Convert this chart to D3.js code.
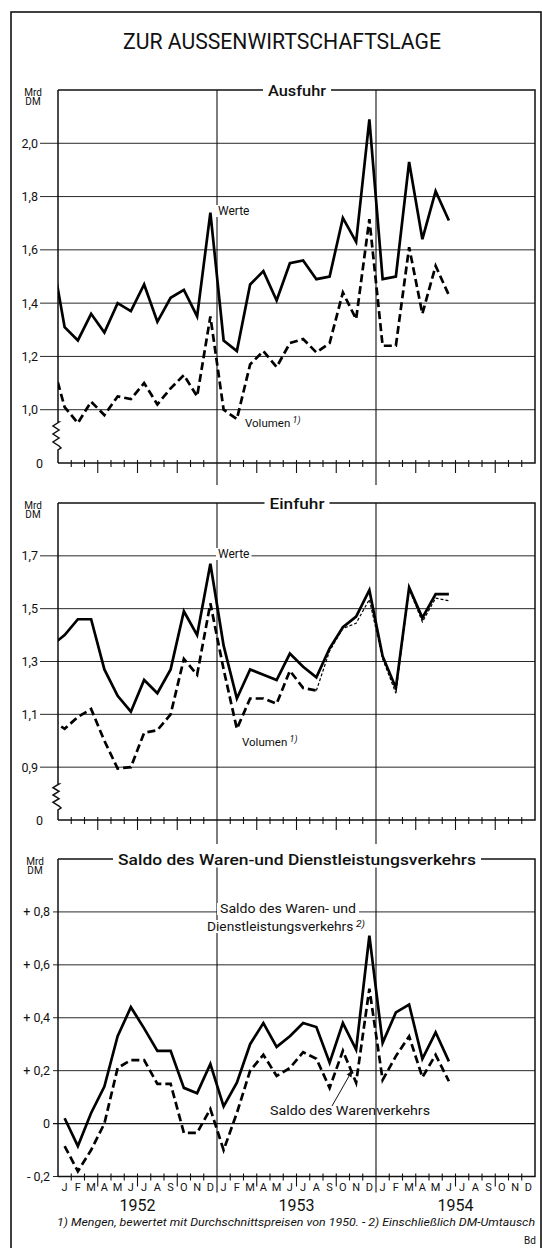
<!DOCTYPE html>
<html>
<head>
<meta charset="utf-8">
<script src="https://cdn.jsdelivr.net/npm/d3@7"></script>
<style>
  body { margin: 0; background: #fff; }
  text { font-family: Roboto, "Noto Sans", sans-serif; fill: #111; }
</style>
</head>
<body>
<div id="chart"></div>
<script>
// months J..D for 1952-1954, series from Dec 1951 (index -1) or Jan 1952
const months = ["J", "F", "M", "A", "M", "J", "J", "A", "S", "O", "N", "D"];
const years = ["1952", "1953", "1954"];

// Ausfuhr, Mrd DM, Dez 1951 .. Jun 1954
const ausfuhrWerte = [1.59,
    1.31, 1.26, 1.36, 1.29, 1.40, 1.37, 1.47, 1.33, 1.42, 1.45, 1.35, 1.74,
    1.26, 1.22, 1.47, 1.52, 1.41, 1.55, 1.56, 1.49, 1.50, 1.72, 1.63, 2.09,
    1.49, 1.50, 1.93, 1.64, 1.82, 1.71];
const ausfuhrVolumen = [1.19,
    1.01, 0.95, 1.03, 0.98, 1.05, 1.04, 1.10, 1.02, 1.08, 1.13, 1.05, 1.35,
    1.00, 0.965, 1.17, 1.22, 1.16, 1.25, 1.265, 1.215, 1.25, 1.44, 1.34, 1.715,
    1.24, 1.24, 1.61, 1.36, 1.54, 1.43];

// Einfuhr, Mrd DM, Dez 1951 .. Jun 1954
const einfuhrWerte = [1.36,
    1.40, 1.46, 1.46, 1.27, 1.17, 1.11, 1.23, 1.18, 1.27, 1.49, 1.40, 1.67,
    1.36, 1.16, 1.27, 1.25, 1.23, 1.33, 1.28, 1.24, 1.35, 1.43, 1.47, 1.57,
    1.32, 1.20, 1.58, 1.465, 1.555, 1.555];
const einfuhrVolumen = [1.08,
    1.045, 1.09, 1.12, 1.00, 0.895, 0.90, 1.03, 1.04, 1.10, 1.31, 1.25, 1.52,
    1.27, 1.045, 1.16, 1.16, 1.14, 1.265, 1.20, 1.19, 1.34, 1.425, 1.445, 1.535,
    1.31, 1.18, 1.575, 1.45, 1.54, 1.53];

// Saldo, Mrd DM, Jan 1952 .. Jun 1954
const saldoGesamt = [
    0.02, -0.085, 0.04, 0.14, 0.33, 0.44, 0.36, 0.275, 0.275, 0.135, 0.115, 0.225,
    0.065, 0.155, 0.30, 0.38, 0.29, 0.33, 0.38, 0.365, 0.23, 0.38, 0.28, 0.71,
    0.305, 0.42, 0.45, 0.245, 0.345, 0.235];
const saldoWaren = [
    -0.085, -0.18, -0.10, 0.0, 0.21, 0.24, 0.24, 0.15, 0.15, -0.035, -0.035, 0.055,
    -0.10, 0.04, 0.20, 0.26, 0.18, 0.21, 0.27, 0.245, 0.135, 0.275, 0.155, 0.51,
    0.165, 0.255, 0.33, 0.175, 0.26, 0.16];

const ausfuhrTicks = [1.0, 1.2, 1.4, 1.6, 1.8, 2.0];
const einfuhrTicks = [0.9, 1.1, 1.3, 1.5, 1.7];
const saldoTicks = [-0.2, 0, 0.2, 0.4, 0.6, 0.8];

const width = 542, height = 1248;
const left = 58, right = 535;

const svg = d3.select("#chart").append("svg")
    .attr("width", width)
    .attr("height", height);

// outer frame
svg.append("rect")
    .attr("x", 11).attr("y", 12)
    .attr("width", 530).attr("height", 1260)
    .attr("fill", "none").attr("stroke", "#111").attr("stroke-width", 1.6);

svg.append("text")
    .attr("x", 282).attr("y", 49)
    .attr("text-anchor", "middle")
    .attr("font-size", 22)
    .attr("textLength", 318).attr("lengthAdjust", "spacingAndGlyphs")
    .text("ZUR AUSSENWIRTSCHAFTSLAGE");

const x = d3.scaleLinear().domain([0, 36]).range([left, right]);

// text with white box behind it
function label(g, tx, ty, str, opts) {
    opts = opts || {};
    const t = g.append("text")
        .attr("x", tx).attr("y", ty)
        .attr("font-size", opts.size || 11.5)
        .attr("font-weight", opts.weight || 400)
        .attr("text-anchor", opts.anchor || "start");
    t.append("tspan").text(str);
    if (opts.sup) {
        t.append("tspan").attr("dy", -4).attr("font-size", 9)
            .attr("font-style", "italic").text(" " + opts.sup);
    }
    if (opts.len) t.attr("textLength", opts.len).attr("lengthAdjust", "spacingAndGlyphs");
    if (opts.bg) {
        const b = t.node().getBBox();
        g.insert("rect", () => t.node())
            .attr("x", b.x - opts.bg).attr("y", b.y + 1)
            .attr("width", b.width + opts.bg * 2).attr("height", b.height - 2)
            .attr("fill", "#fff");
    }
    return t;
}

function drawPanel(p) {
    const y = d3.scaleLinear().domain(p.domain).range([p.bottom, p.top]);
    const g = svg.append("g");

    // horizontal grid
    g.selectAll(".grid").data(p.ticks).join("line")
        .attr("x1", p.gridX0).attr("x2", right)
        .attr("y1", d => y(d)).attr("y2", d => y(d))
        .attr("stroke", "#111")
        .attr("stroke-width", d => d === 0 ? 1.3 : 0.9);

    g.selectAll(".ylab").data(p.ticks).join("text")
        .attr("x", p.labelX).attr("y", d => y(d) + 4.5)
        .attr("text-anchor", "end")
        .attr("font-size", 12.5)
        .text(p.format);

    if (p.zeroLabel) {
        g.append("text")
            .attr("x", p.labelX + 5).attr("y", p.bottom + 4.5)
            .attr("text-anchor", "end").attr("font-size", 12.5)
            .text("0");
    }

    g.append("text").attr("x", p.unitX).attr("y", p.top + 6)
        .attr("text-anchor", "middle").attr("font-size", 10).text("Mrd");
    g.append("text").attr("x", p.unitX).attr("y", p.top + 15)
        .attr("text-anchor", "middle").attr("font-size", 10).text("DM");

    // year separators
    g.selectAll(".year").data([12, 24]).join("line")
        .attr("x1", d => x(d)).attr("x2", d => x(d))
        .attr("y1", p.top).attr("y2", p.bottom + p.yearExt)
        .attr("stroke", "#111").attr("stroke-width", 1.1);

    // month ticks on the time axis
    const mt = d3.range(1, 36).filter(d => d % 12 !== 0);
    g.selectAll(".mt").data(mt).join("line")
        .attr("x1", d => x(d)).attr("x2", d => x(d))
        .attr("y1", p.bottom - 3)
        .attr("y2", d => p.bottom + (d % 3 === 0 ? 10 : 4))
        .attr("stroke", "#111").attr("stroke-width", 1.1);

    // frame: top, right, bottom, left (with zigzag break)
    g.append("path")
        .attr("d", `M${left},${p.top}H${right}V${p.bottom}H${left}`)
        .attr("fill", "none").attr("stroke", "#111").attr("stroke-width", 1.5);

    let leftAxis = `M${left},${p.top}`;
    if (p.zigzag) {
        const [z0, z1] = p.zigzag;
        leftAxis += `V${z0}`;
        const steps = 6;
        for (let i = 0; i <= steps; i++) {
            const yy = z0 + (z1 - z0) * i / steps;
            leftAxis += `L${i % 2 ? left - 5 : left + 1},${yy}`;
        }
        leftAxis += `L${left + 3},${z1 + 2}L${left},${z1 + 4}`;
    }
    leftAxis += `V${p.bottom}`;
    g.append("path").attr("d", leftAxis)
        .attr("fill", "none").attr("stroke", "#111").attr("stroke-width", 1.5);

    // panel title on the top border
    label(g, 297, p.top + 5.5, p.title, { size: 14.5, anchor: "middle", bg: 5, len: p.titleLen, weight: 500 });

    // series
    const clipId = "clip" + p.id;
    svg.append("clipPath").attr("id", clipId).append("rect")
        .attr("x", left).attr("y", p.top).attr("width", right - left).attr("height", p.bottom - p.top);
    const lines = g.append("g").attr("clip-path", `url(#${clipId})`);

    p.series.forEach(s => {
        const line = d3.line()
            .x((d, i) => x(s.start + s.from + i + 0.5))
            .y(d => y(d));
        const vals = s.values.slice(s.from, s.to);
        lines.append("path")
            .attr("d", line(vals))
            .attr("fill", "none")
            .attr("stroke", "#000")
            .attr("stroke-width", s.w)
            .attr("stroke-linejoin", "miter")
            .attr("stroke-dasharray", s.dash || null);
    });

    return { g, y };
}

const thick = 2.7;

// Ausfuhr
const p1 = drawPanel({
    id: 1, title: "Ausfuhr", titleLen: 58,
    domain: [0.8, 2.2], top: 90, bottom: 463,
    ticks: ausfuhrTicks, format: d => d3.format(".1f")(d).replace(".", ","),
    labelX: 38, gridX0: 40, unitX: 33, zeroLabel: true,
    zigzag: [422, 446], yearExt: 22,
    series: [
        { values: ausfuhrWerte, start: -1, from: 0, to: 31, w: thick },
        { values: ausfuhrVolumen, start: -1, from: 0, to: 31, w: thick, dash: "8,4" }
    ]
});
label(p1.g, 218, 215, "Werte", { size: 12, bg: 2 });
label(p1.g, 245, 427, "Volumen", { size: 11.5, sup: "1)" });

// Einfuhr
const p2 = drawPanel({
    id: 2, title: "Einfuhr", titleLen: 55,
    domain: [0.7, 1.9], top: 503, bottom: 820,
    ticks: einfuhrTicks, format: d => d3.format(".1f")(d).replace(".", ","),
    labelX: 38, gridX0: 40, unitX: 33, zeroLabel: true,
    zigzag: [784, 806], yearExt: 24,
    series: [
        { values: einfuhrWerte, start: -1, from: 0, to: 31, w: thick },
        { values: einfuhrVolumen, start: -1, from: 0, to: 21, w: thick, dash: "8,4" },
        { values: einfuhrVolumen, start: -1, from: 20, to: 31, w: 1.2, dash: "3,2" }
    ]
});
label(p2.g, 218, 558, "Werte", { size: 12, bg: 2 });
label(p2.g, 242, 746, "Volumen", { size: 11.5, sup: "1)" });

// Saldo
const p3 = drawPanel({
    id: 3, title: "Saldo des Waren-und Dienstleistungsverkehrs", titleLen: 358,
    domain: [-0.2, 1.0], top: 859, bottom: 1176.5,
    ticks: saldoTicks,
    format: d => d === 0 ? "0" : (d > 0 ? "+ " : "- ") + d3.format(".1f")(Math.abs(d)).replace(".", ","),
    labelX: 50, gridX0: 53, unitX: 35, zeroLabel: false,
    zigzag: null, yearExt: 16,
    series: [
        { values: saldoGesamt, start: 0, from: 0, to: 30, w: thick },
        { values: saldoWaren, start: 0, from: 0, to: 30, w: thick, dash: "8,4" }
    ]
});
label(p3.g, 288, 913, "Saldo des Waren- und", { size: 12, anchor: "middle", bg: 3, len: 136 });
label(p3.g, 286, 931, "Dienstleistungsverkehrs", { size: 12, anchor: "middle", bg: 3, len: 158, sup: "2)" });
label(p3.g, 350, 1115, "Saldo des Warenverkehrs", { size: 12, anchor: "middle", len: 160 });

// arrow to the Warenverkehr line
svg.append("defs").append("marker")
    .attr("id", "arr").attr("viewBox", "0 0 10 10")
    .attr("refX", 9).attr("refY", 5)
    .attr("markerWidth", 7).attr("markerHeight", 7)
    .attr("orient", "auto")
    .append("path").attr("d", "M0,1L10,5L0,9Z").attr("fill", "#111");
p3.g.append("line")
    .attr("x1", 332).attr("y1", 1106)
    .attr("x2", x(22.2)).attr("y2", p3.y(0.2))
    .attr("stroke", "#111").attr("stroke-width", 1)
    .attr("marker-end", "url(#arr)");

// month and year labels below the last panel
svg.selectAll(".mon").data(d3.range(36)).join("text")
    .attr("x", d => x(d + 0.5)).attr("y", 1191)
    .attr("text-anchor", "middle").attr("font-size", 11)
    .text(d => months[d % 12]);

svg.selectAll(".yr").data(years).join("text")
    .attr("x", (d, i) => x(i * 12 + 6)).attr("y", 1211)
    .attr("text-anchor", "middle").attr("font-size", 16)
    .text(d => d);

svg.append("text")
    .attr("x", 57).attr("y", 1226)
    .attr("font-size", 10.5).attr("font-style", "italic")
    .attr("textLength", 478).attr("lengthAdjust", "spacingAndGlyphs")
    .text("1) Mengen, bewertet mit Durchschnittspreisen von 1950. - 2) Einschließlich DM-Umtausch");

svg.append("text")
    .attr("x", 524).attr("y", 1244)
    .attr("font-size", 10)
    .text("Bd");
</script>
</body>
</html>
